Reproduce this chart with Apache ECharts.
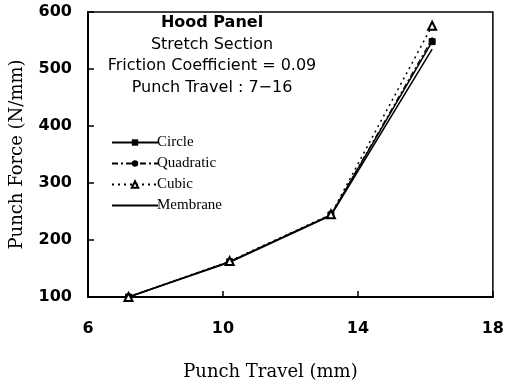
<!DOCTYPE html>
<html><head><meta charset="utf-8">
<script src="https://cdn.jsdelivr.net/npm/echarts@6/dist/echarts.min.js"></script>
<style>html,body{margin:0;padding:0;background:#fff}#c{width:507px;height:387px}</style>
</head><body><div id="c"></div>
<script>
const travel = [7.2, 10.2, 13.2, 16.2];
const circle = [100, 162, 244, 548];
const quadratic = [100, 162, 244, 553];
const cubic = [100, 163, 245, 576];
const membrane = [100, 161, 243, 535];
const seriesNames = ['Circle', 'Quadratic', 'Cubic', 'Membrane'];
const titleLines = ['Hood Panel', 'Stretch Section', 'Friction Coefficient = 0.09', 'Punch Travel : 7\u221216'];
const xName = 'Punch Travel (mm)';
const yName = 'Punch Force (N/mm)';

const pts = a => a.map((v, i) => [travel[i], v]);
const chart = echarts.init(document.getElementById('c'));
const serif = 'Liberation Serif';
const nameFont = 'DejaVu Serif';
const sans = 'DejaVu Sans';
chart.setOption({
  animation: false,
  grid: {left: 83, right: 9, top: 12, bottom: 90, show: true, borderColor: '#000', borderWidth: 1.5},
  xAxis: {type: 'value', min: 6, max: 18, interval: 4,
    name: xName, nameLocation: 'middle', nameGap: 66,
    nameTextStyle: {fontFamily: nameFont, fontSize: 18, color: '#000', padding: [0, 40, 0, 0]},
    axisLine: {lineStyle: {color: '#000', width: 2}},
    axisTick: {inside: true, length: 6, lineStyle: {color: '#000', width: 1.5}},
    axisLabel: {margin: 24, fontFamily: sans, fontWeight: 'bold', fontSize: 16, color: '#000'},
    splitLine: {show: false}},
  yAxis: {type: 'value', min: 100, max: 600, interval: 100,
    name: yName, nameLocation: 'middle', nameGap: 62,
    nameTextStyle: {fontFamily: nameFont, fontSize: 18, color: '#000'},
    axisLine: {show: true, lineStyle: {color: '#000', width: 2}},
    axisTick: {show: true, inside: true, length: 6, lineStyle: {color: '#000', width: 1.5}},
    axisLabel: {margin: 16, fontFamily: sans, fontWeight: 'bold', fontSize: 16, color: '#000'},
    splitLine: {show: false}},
  legend: {orient: 'vertical', left: 106, top: 130, itemGap: 6, itemWidth: 46, itemHeight: 8,
    data: [seriesNames[0], seriesNames[1], seriesNames[2], {name: seriesNames[3], itemStyle: {opacity: 0}}],
    textStyle: {fontFamily: serif, fontSize: 15, color: '#000', padding: [0, 0, 0, -6]}},
  title: {text: titleLines[0], subtext: titleLines.slice(1).join('\n'), left: 207, top: 10, textAlign: 'center',
    itemGap: 3,
    textStyle: {fontFamily: sans, fontWeight: 'bold', fontSize: 16, color: '#000'},
    subtextStyle: {fontFamily: sans, fontSize: 16, color: '#000', lineHeight: 21.5}},
  series: [
    {name: seriesNames[0], type: 'line', data: pts(circle), symbol: 'rect', symbolSize: 6,
      itemStyle: {color: '#000', borderColor: '#000'}, lineStyle: {color: '#000', width: 1.5}},
    {name: seriesNames[1], type: 'line', data: pts(quadratic), symbol: 'circle', symbolSize: 3,
      itemStyle: {color: '#000'}, lineStyle: {color: '#000', width: 1.2, type: [6, 3, 2, 3]}},
    {name: seriesNames[2], type: 'line', data: pts(cubic), symbol: 'emptyTriangle', symbolSize: 8,
      itemStyle: {color: '#000', borderColor: '#000', borderWidth: 1.2}, lineStyle: {color: '#000', width: 1.5, type: [2, 4]}},
    {name: seriesNames[3], type: 'line', data: pts(membrane), symbol: 'none',
      itemStyle: {color: '#000'}, lineStyle: {color: '#000', width: 1.5}}
  ]
});
</script></body></html>
